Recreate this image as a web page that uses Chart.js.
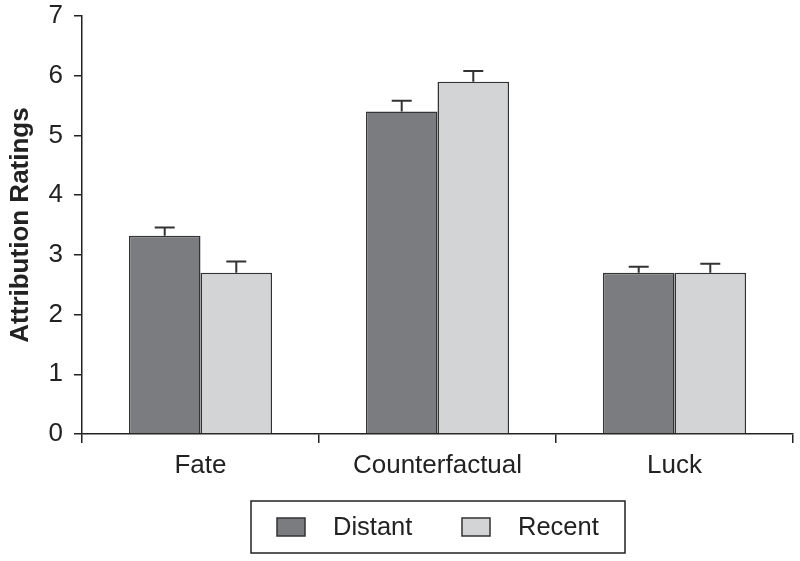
<!DOCTYPE html>
<html>
<head>
<meta charset="utf-8">
<script src="https://cdn.jsdelivr.net/npm/chart.js@4"></script>
<style>
  html, body { margin: 0; padding: 0; background: #fff; }
  #wrap { width: 800px; height: 561px; }
</style>
</head>
<body>
<div id="wrap"><canvas id="myChart"></canvas></div>
<script>
const categories = ['Fate', 'Counterfactual', 'Luck'];
const distant = [3.32, 5.40, 2.70];
const distantErr = [0.14, 0.18, 0.10];
const recent = [2.70, 5.90, 2.70];
const recentErr = [0.19, 0.18, 0.15];
const yTicks = [0, 1, 2, 3, 4, 5, 6, 7];

const FONT = "'Liberation Sans', Arial, sans-serif";
const INK = '#222';

// error bars drawn on top of the bars
const errorBars = {
    id: 'errorBars',
    afterDatasetsDraw(chart) {
        const ctx = chart.ctx;
        const y = chart.scales.y;
        chart.data.datasets.forEach((ds, i) => {
            const meta = chart.getDatasetMeta(i);
            meta.data.forEach((bar, j) => {
                const top = y.getPixelForValue(ds.data[j] + ds.errors[j]);
                const base = y.getPixelForValue(ds.data[j]);
                ctx.save();
                ctx.strokeStyle = '#333';
                ctx.lineWidth = 2;
                ctx.beginPath();
                ctx.moveTo(bar.x, base);
                ctx.lineTo(bar.x, top);
                ctx.moveTo(bar.x - 10, top);
                ctx.lineTo(bar.x + 10, top);
                ctx.stroke();
                ctx.restore();
            });
        });
    }
};

// boxed legend under the axis
const boxLegend = {
    id: 'boxLegend',
    afterDraw(chart) {
        const ctx = chart.ctx;
        ctx.save();
        ctx.strokeStyle = INK;
        ctx.lineWidth = 1.5;
        ctx.strokeRect(251, 501, 374, 52);
        const spots = [277, 462];
        chart.data.datasets.forEach((ds, i) => {
            const x = spots[i];
            ctx.fillStyle = ds.backgroundColor;
            ctx.fillRect(x, 518, 28, 18);
            ctx.strokeStyle = '#333';
            ctx.lineWidth = 1.5;
            ctx.strokeRect(x, 518, 28, 18);
            ctx.fillStyle = INK;
            ctx.font = '25.5px ' + FONT;
            ctx.textBaseline = 'middle';
            ctx.fillText(ds.label, x + 56, 528);
        });
        ctx.restore();
    }
};

const ctx = document.getElementById('myChart');

new Chart(ctx, {
    type: 'bar',
    data: {
        labels: categories,
        datasets: [{
            label: 'Distant',
            data: distant,
            errors: distantErr,
            backgroundColor: '#7b7c80',
            borderColor: '#333',
            borderWidth: 1.5
        }, {
            label: 'Recent',
            data: recent,
            errors: recentErr,
            backgroundColor: '#d3d4d6',
            borderColor: '#333',
            borderWidth: 1.5
        }]
    },
    options: {
        responsive: true,
        maintainAspectRatio: false,
        animation: false,
        categoryPercentage: 0.604,
        barPercentage: 1,
        layout: { padding: { top: 16, right: 7, bottom: 0, left: 0 } },
        plugins: {
            legend: { display: false },
            tooltip: { enabled: false }
        },
        scales: {
            x: {
                afterFit: s => { s.height = 127; },
                grid: {
                    offset: true,
                    drawOnChartArea: false,
                    tickLength: 9,
                    color: INK,
                    lineWidth: 1.5
                },
                border: { color: INK, width: 1.5 },
                ticks: {
                    color: INK,
                    padding: 7,
                    font: { family: FONT, size: 26 }
                }
            },
            y: {
                min: 0,
                max: 7,
                afterFit: s => { s.width = 82; s.paddingTop = 16; s.paddingBottom = 0; },
                afterBuildTicks: s => { s.ticks = yTicks.map(v => ({ value: v })); },
                grid: {
                    drawOnChartArea: false,
                    tickLength: 8,
                    color: INK,
                    lineWidth: 1.5
                },
                border: { color: INK, width: 1.5 },
                ticks: {
                    color: INK,
                    padding: 11,
                    font: { family: FONT, size: 26 }
                },
                title: {
                    display: true,
                    text: 'Attribution Ratings',
                    color: INK,
                    padding: { top: 5, bottom: 0 },
                    font: { family: FONT, size: 26, weight: 'bold' }
                }
            }
        }
    },
    plugins: [errorBars, boxLegend]
});
</script>
</body>
</html>
